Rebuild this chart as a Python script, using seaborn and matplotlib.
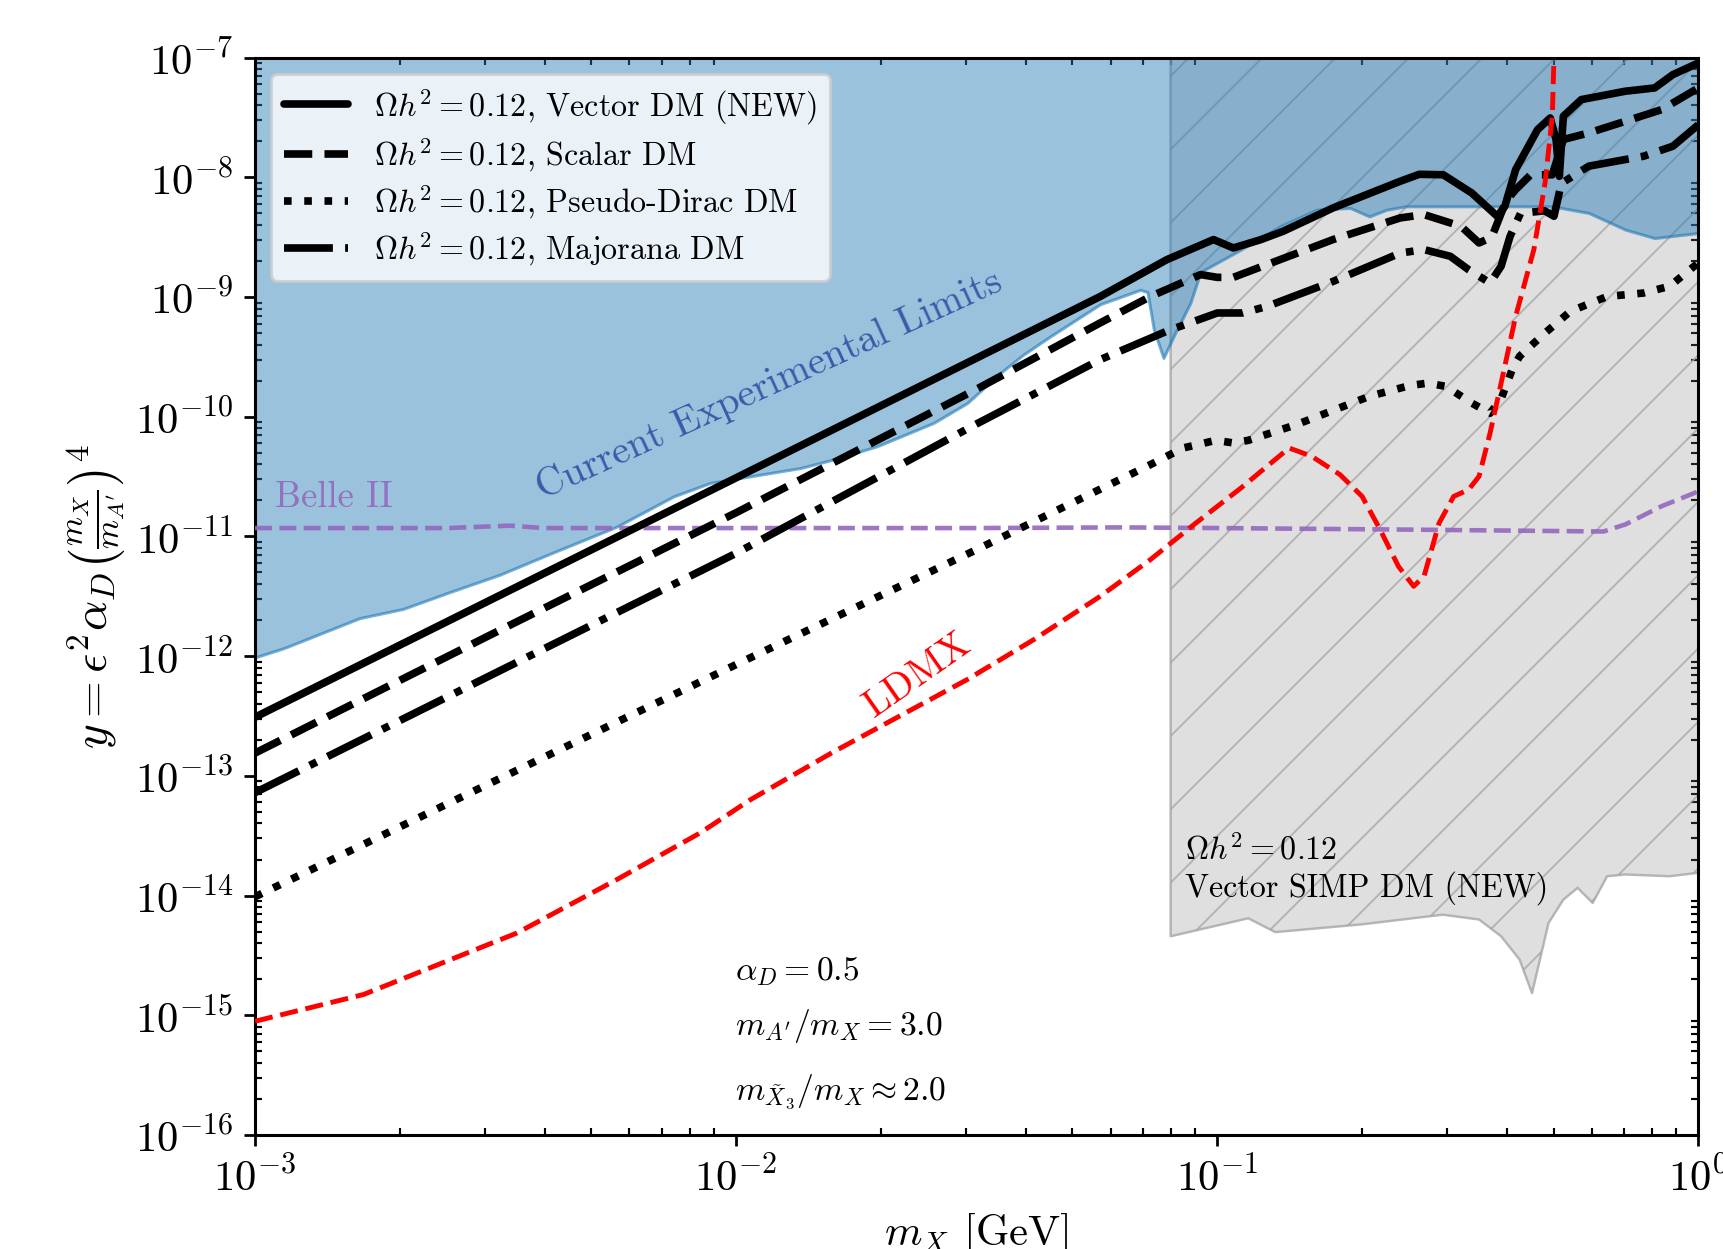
import numpy as np
import matplotlib
matplotlib.use("Agg")
import matplotlib.pyplot as plt
import seaborn as sns
from matplotlib.ticker import LogLocator, NullFormatter

# --- data (m_X in GeV, y dimensionless) ---
vector_x = [1.0e-3, 3.16e-3, 1.0e-2, 3.16e-2, 0.0571, 0.0785, 0.0982, 0.108, 0.123, 0.137,
            0.174, 0.240, 0.263, 0.295, 0.338, 0.382, 0.396, 0.417, 0.463, 0.492, 0.506,
            0.514, 0.524, 0.571, 0.705, 0.811, 0.885, 1.0]
vector_y = [3.09e-13, 3.09e-12, 3.09e-11, 3.09e-10, 1.01e-9, 2.05e-9, 3.02e-9, 2.57e-9, 3.01e-9,
            3.54e-9, 5.55e-9, 9.27e-9, 1.06e-8, 1.05e-8, 7.40e-9, 4.72e-9, 5.73e-9, 1.16e-8,
            2.50e-8, 3.13e-8, 2.07e-8, 1.02e-8, 3.24e-8, 4.46e-8, 5.24e-8, 5.58e-8, 7.21e-8, 9.02e-8]

scalar_x = [1.0e-3, 3.16e-3, 1.0e-2, 3.16e-2, 0.0571, 0.0726, 0.0923, 0.100, 0.108, 0.127,
            0.174, 0.240, 0.269, 0.321, 0.350, 0.372, 0.398, 0.417, 0.448, 0.497, 0.524,
            0.592, 0.705, 0.839, 1.0]
scalar_y = [1.55e-13, 1.58e-12, 1.58e-11, 1.70e-10, 6.08e-10, 1.01e-9, 1.54e-9, 1.46e-9, 1.46e-9,
            1.87e-9, 3.02e-9, 4.58e-9, 4.88e-9, 3.90e-9, 2.83e-9, 3.16e-9, 6.31e-9, 7.89e-9,
            1.05e-8, 1.05e-8, 2.07e-8, 2.35e-8, 2.94e-8, 3.68e-8, 5.58e-8]

dirac_x = [1.0e-3, 3.16e-3, 1.0e-2, 3.16e-2, 0.0726, 0.0849, 0.0993, 0.108, 0.116, 0.146,
           0.207, 0.251, 0.274, 0.299, 0.338, 0.369, 0.389, 0.410, 0.425, 0.480, 0.542,
           0.646, 0.769, 0.871, 1.0]
dirac_y = [9.77e-15, 9.12e-14, 8.51e-13, 7.76e-12, 3.98e-11, 5.48e-11, 6.35e-11, 6.04e-11,
           6.35e-11, 8.59e-11, 1.48e-10, 1.82e-10, 1.91e-10, 1.79e-10, 1.30e-10, 1.07e-10,
           1.41e-10, 2.47e-10, 3.20e-10, 5.01e-10, 7.60e-10, 1.01e-9, 1.08e-9, 1.23e-9, 1.93e-9]

majorana_x = [1.0e-3, 3.16e-3, 1.0e-2, 3.16e-2, 0.0571, 0.0785, 0.100, 0.113, 0.127, 0.174,
              0.240, 0.269, 0.305, 0.333, 0.369, 0.389, 0.406, 0.427, 0.479, 0.501, 0.519,
              0.592, 0.769, 0.885, 1.0]
majorana_y = [7.24e-14, 7.24e-13, 7.24e-12, 8.71e-11, 3.00e-10, 5.18e-10, 7.36e-10, 7.36e-10,
              8.36e-10, 1.35e-9, 2.33e-9, 2.49e-9, 2.19e-9, 1.69e-9, 1.31e-9, 1.81e-9, 3.21e-9,
              5.01e-9, 5.25e-9, 4.73e-9, 8.91e-9, 1.24e-8, 1.50e-8, 1.82e-8, 2.75e-8]

ldmx_x = [1.0e-3, 1.68e-3, 2.17e-3, 3.50e-3, 5.65e-3, 8.41e-3, 1.07e-2, 1.59e-2, 3.02e-2,
          4.15e-2, 5.71e-2, 7.26e-2, 8.95e-2, 0.112, 0.141, 0.157, 0.180, 0.200, 0.218, 0.238,
          0.256, 0.269, 0.289, 0.310, 0.333, 0.350, 0.369, 0.389, 0.417, 0.455, 0.480, 0.497, 0.501]
ldmx_y = [8.91e-16, 1.49e-15, 2.25e-15, 4.86e-15, 1.36e-14, 3.33e-14, 6.31e-14, 1.58e-13,
          6.37e-13, 1.37e-12, 3.16e-12, 6.40e-12, 1.26e-11, 2.54e-11, 5.48e-11, 4.68e-11,
          3.28e-11, 2.16e-11, 1.14e-11, 5.62e-12, 3.83e-12, 4.65e-12, 1.29e-11, 2.16e-11,
          2.46e-11, 3.18e-11, 7.31e-11, 1.91e-10, 6.90e-10, 2.49e-9, 8.97e-9, 3.24e-8, 1.0e-7]

belle_x = [1.0e-3, 2.51e-3, 3.39e-3, 3.98e-3, 3.16e-2, 6.31e-2, 0.100, 0.251, 0.635, 0.705, 0.839, 1.0]
belle_y = [1.175e-11, 1.175e-11, 1.23e-11, 1.175e-11, 1.175e-11, 1.19e-11, 1.175e-11, 1.14e-11,
           1.10e-11, 1.26e-11, 1.79e-11, 2.38e-11]

exp_x = [1.0e-3, 1.15e-3, 1.65e-3, 2.03e-3, 2.54e-3, 3.23e-3, 4.10e-3, 5.65e-3, 7.41e-3, 8.83e-3,
         1.07e-2, 1.36e-2, 1.59e-2, 1.96e-2, 2.57e-2, 3.02e-2, 3.54e-2, 3.95e-2, 4.50e-2, 5.71e-2,
         6.92e-2, 7.16e-2, 7.38e-2, 7.73e-2, 8.11e-2, 8.79e-2, 9.23e-2, 0.112, 0.135, 0.161,
         0.189, 0.207, 0.225, 0.247, 0.497, 0.592, 0.705, 0.811, 1.0]
exp_y = [9.77e-13, 1.17e-12, 2.08e-12, 2.48e-12, 3.43e-12, 4.80e-12, 7.16e-12, 1.21e-11, 2.16e-11,
         2.80e-11, 3.18e-11, 3.73e-11, 4.39e-11, 5.66e-11, 8.87e-11, 1.30e-10, 2.32e-10, 3.30e-10,
         4.70e-10, 8.71e-10, 1.15e-9, 1.10e-9, 5.35e-10, 3.10e-10, 4.70e-10, 8.93e-10, 1.62e-9,
         2.49e-9, 3.90e-9, 5.37e-9, 5.55e-9, 4.72e-9, 5.37e-9, 5.73e-9, 5.73e-9, 5.04e-9, 3.66e-9,
         3.11e-9, 3.43e-9]

simp_x = [0.0800, 0.116, 0.132, 0.200, 0.294, 0.350, 0.389, 0.425, 0.451, 0.488, 0.524, 0.561,
          0.603, 0.646, 0.705, 0.871, 1.0]
simp_y = [4.57e-15, 6.46e-15, 4.95e-15, 5.75e-15, 6.92e-15, 6.31e-15, 4.57e-15, 2.92e-15,
          1.53e-15, 5.90e-15, 9.25e-15, 1.16e-14, 8.67e-15, 1.45e-14, 1.50e-14, 1.45e-14, 1.55e-14]

y_top = 1e-7

sns.set_style("ticks")
plt.rcParams.update({
    "font.family": "serif",
    "font.serif": ["cmr10", "DejaVu Serif"],
    "mathtext.fontset": "cm",
    "axes.formatter.use_mathtext": True,
    "axes.edgecolor": "black",
    "text.color": "black",
    "axes.labelcolor": "black",
    "xtick.color": "black",
    "ytick.color": "black",
    "axes.linewidth": 1.0,
    "hatch.linewidth": 0.6,
    "hatch.color": "0.6",
})

dpi = 220
fig = plt.figure(figsize=(1723.4 / dpi, 1249.4 / dpi), dpi=dpi)
ax = fig.add_axes([255 / 1723, 1 - 1135 / 1249, (1698 - 255) / 1723, (1135 - 58) / 1249])

# shaded regions
ax.fill_between(simp_x, simp_y, y_top, facecolor=(0.5, 0.5, 0.5, 0.25),
                edgecolor=(0.65, 0.65, 0.65, 0.8), hatch="/", lw=0.8, zorder=1)
ax.fill_between(exp_x, exp_y, y_top, facecolor=(0.12, 0.47, 0.71, 0.45),
                edgecolor=(0.12, 0.47, 0.71, 0.6), lw=1.0, zorder=2)

lw = 2.5
sns.lineplot(x=vector_x, y=vector_y, ax=ax, color="k", lw=lw, linestyle="-",
             label=r"$\Omega h^2 = 0.12$, Vector DM (NEW)", zorder=4)
sns.lineplot(x=scalar_x, y=scalar_y, ax=ax, color="k", lw=lw, linestyle="--",
             label=r"$\Omega h^2 = 0.12$, Scalar DM", zorder=4)
sns.lineplot(x=dirac_x, y=dirac_y, ax=ax, color="k", lw=lw, linestyle=":",
             label=r"$\Omega h^2 = 0.12$, Pseudo-Dirac DM", zorder=4)
sns.lineplot(x=majorana_x, y=majorana_y, ax=ax, color="k", lw=lw, linestyle="-.",
             label=r"$\Omega h^2 = 0.12$, Majorana DM", zorder=4)
sns.lineplot(x=ldmx_x, y=ldmx_y, ax=ax, color="red", lw=1.6, linestyle="--", zorder=5)
sns.lineplot(x=belle_x, y=belle_y, ax=ax, color="tab:purple", lw=1.5, linestyle="--",
             alpha=0.9, zorder=3)

ax.set_xscale("log")
ax.set_yscale("log")
ax.set_xlim(1e-3, 1.0)
ax.set_ylim(1e-16, 1e-7)

ax.yaxis.set_major_locator(LogLocator(base=10, numticks=20))
ax.yaxis.set_minor_locator(LogLocator(base=10, subs=np.arange(2, 10), numticks=200))
ax.yaxis.set_minor_formatter(NullFormatter())
ax.xaxis.set_minor_locator(LogLocator(base=10, subs=np.arange(2, 10), numticks=200))
ax.xaxis.set_minor_formatter(NullFormatter())
ax.tick_params(which="major", direction="out", labelsize=14, length=3.5, width=0.9)
ax.tick_params(which="minor", direction="in", top=True, right=True, length=2.2, width=0.7)

ax.set_xlabel(r"$m_X$ [GeV]", fontsize=14)
ax.set_ylabel(r"$y = \epsilon^2\alpha_D\left(\frac{m_X}{m_{A'}}\right)^4$", fontsize=15.5,
              labelpad=2)

ax.text(0.01172, 1.85e-10, "Current Experimental Limits", color="#3a5ba8", fontsize=13,
        rotation=24.5, ha="center", va="center", zorder=6)
ax.text(1.1e-3, 1.79e-11, "Belle II", color="tab:purple", fontsize=12, alpha=0.9,
        ha="left", va="baseline", zorder=6)
ax.text(0.0238, 7.0e-13, "LDMX", color="red", fontsize=13, rotation=35,
        ha="center", va="center", zorder=6)
ax.text(0.0857, 2.0e-14, r"$\Omega h^2 = 0.12$", fontsize=10.5, ha="left", va="baseline", zorder=6)
ax.text(0.0857, 9.84e-15, "Vector SIMP DM (NEW)", fontsize=10.5, ha="left", va="baseline", zorder=6)
ax.text(9.95e-3, 1.98e-15, r"$\alpha_D = 0.5$", fontsize=11, ha="left", va="baseline", zorder=6)
ax.text(9.95e-3, 6.9e-16, r"$m_{A'}/m_X = 3.0$", fontsize=11, ha="left", va="baseline", zorder=6)
ax.text(9.95e-3, 1.97e-16, r"$m_{\tilde{X}_3}/m_X \approx 2.0$", fontsize=11, ha="left",
        va="baseline", zorder=6)

ax.legend(loc="upper left", fontsize=10.5, handlelength=2.0, labelspacing=0.3, framealpha=0.8)

fig.savefig("out.png", dpi=dpi)
